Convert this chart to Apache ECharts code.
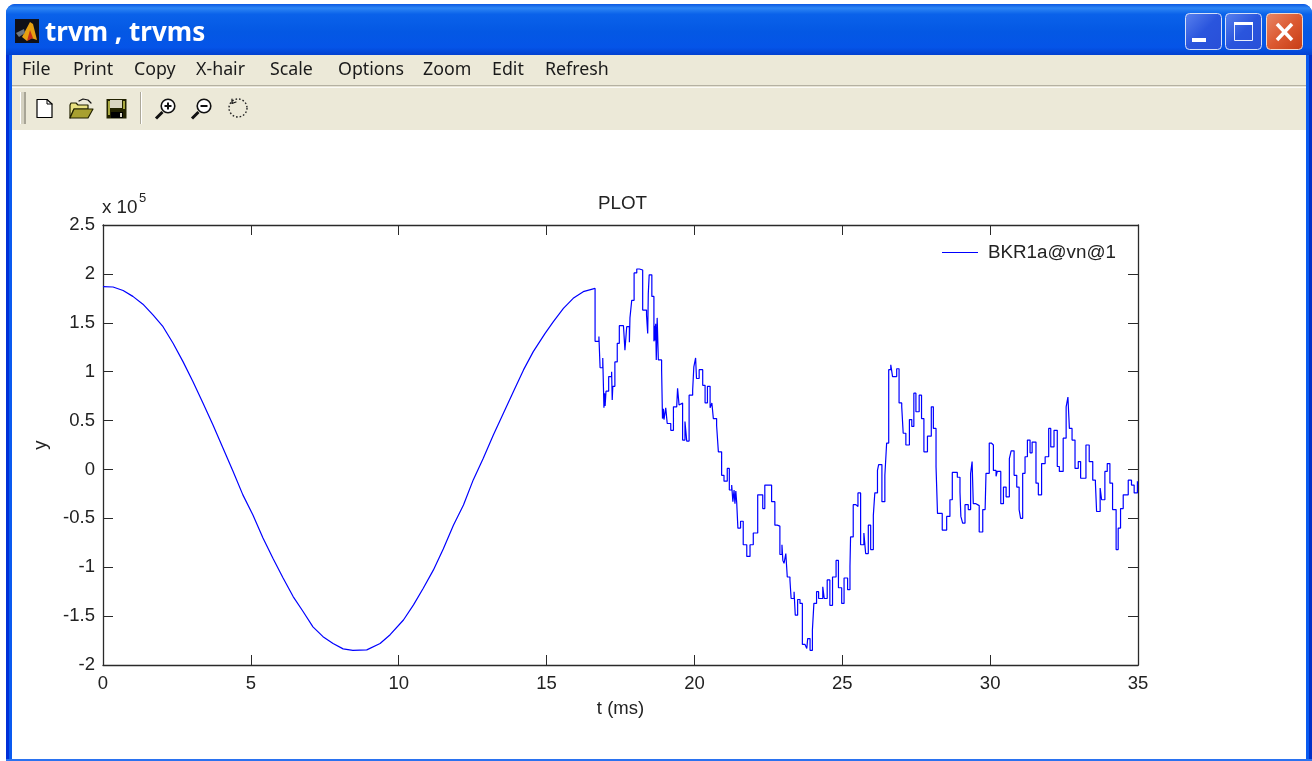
<!DOCTYPE html>
<html>
<head>
<meta charset="utf-8">
<style>html,body{margin:0;padding:0;background:#fff}#c{width:1312px;height:761px}</style>
<script src="https://cdn.jsdelivr.net/npm/echarts@6/dist/echarts.min.js"></script>
</head>
<body>
<div id="c"></div>
<script>
const windowTitle = 'trvm , trvms';
const menuLabels = ['File','Print','Copy','X-hair','Scale','Options','Zoom','Edit','Refresh'];
const xTicks = {min:0, max:35, step:5};
const yTicks = {min:-2, max:2.5, step:0.5};
const seriesName = 'BKR1a@vn@1';

// t in ms, y in units of 1e5
const tSine = [0,0.34,0.68,1.01,1.35,1.69,2.03,2.37,2.71,3.04,3.38,3.72,4.06,4.40,4.73,5.07,5.41,5.75,6.09,6.43,6.76,7.10,7.44,7.78,8.12,8.45,8.92,9.37,9.71,10.16,10.50,10.83,11.17,11.51,11.85,12.19,12.52,12.86,13.20,13.54,13.88,14.22,14.55,14.95,15.23,15.57,15.90,16.24,16.64];
const ySine = [1.87,1.866,1.83,1.77,1.69,1.58,1.46,1.29,1.10,0.90,0.68,0.455,0.216,-0.02,-0.26,-0.465,-0.70,-0.91,-1.11,-1.30,-1.45,-1.61,-1.71,-1.78,-1.835,-1.85,-1.845,-1.78,-1.69,-1.54,-1.385,-1.215,-1.03,-0.81,-0.57,-0.363,-0.107,0.114,0.353,0.574,0.796,1.018,1.205,1.392,1.512,1.648,1.75,1.818,1.852];
const tRise = [16.64,16.64,16.77,16.81,16.90,16.94,16.96,16.98,17.01,17.10,17.20,17.22,17.24,17.31,17.39,17.46,17.60,17.65,17.71,17.80,17.82,17.88,17.96,18.05,18.14,18.25,18.38,18.42,18.44,18.47,18.52,18.56,18.63,18.65,18.67,18.69,18.71,18.74,18.78,18.89,18.92,18.95,18.97,19.03,19.08,19.20,19.29,19.40,19.43,19.48,19.53,19.60,19.68,19.74,19.82,19.94,19.98,20.04,20.07,20.16,20.28,20.36,20.44,20.53,20.59,20.64,20.75,20.81,20.92,21.00,21.11,21.18,21.26,21.30,21.34,21.37,21.40,21.43,21.47,21.56,21.65,21.77,21.88,21.99,22.14,22.22,22.31,22.38,22.53,22.61,22.72,22.80,22.89];
const yRise = [1.852,1.31,1.36,1.04,1.14,0.63,0.78,0.65,0.80,0.95,1.00,0.71,0.85,1.10,1.29,1.47,1.47,1.22,1.46,1.30,1.55,1.73,2.01,2.05,2.04,1.63,1.58,1.39,1.80,1.99,1.99,1.77,1.31,1.47,1.32,1.49,1.12,1.55,1.12,1.02,0.52,0.62,0.51,0.63,0.47,0.40,0.64,0.62,0.83,0.66,0.68,0.30,0.49,0.29,0.76,0.81,1.05,1.14,0.93,1.02,0.86,0.68,0.85,0.63,0.68,0.52,0.45,0.18,-0.06,-0.12,0.01,-0.21,-0.16,-0.33,-0.21,-0.35,-0.22,-0.34,-0.60,-0.53,-0.77,-0.89,-0.77,-0.65,-0.26,-0.26,-0.40,-0.16,-0.16,-0.33,-0.57,-0.58,-0.87];
const tMid = [22.96,22.99,23.03,23.09,23.14,23.23,23.27,23.37,23.41,23.49,23.57,23.65,23.74,23.80,23.83,23.91,23.99,24.04,24.13,24.20,24.34,24.39,24.49,24.58,24.67,24.79,24.87,24.98,25.06,25.18,25.26,25.28,25.37,25.46,25.53,25.62,25.73,25.79,25.88,25.96,26.05,26.10,26.19,26.23,26.34,26.44,26.50,26.57,26.64,26.70,26.84,26.92,27.01,27.06,27.15,27.27,27.35,27.42,27.49,27.60,27.68,27.76,27.88,28.01,28.08,28.17,28.22,28.38,28.53,28.64];
const yMid = [-0.77,-0.93,-0.96,-0.86,-1.10,-1.13,-1.32,-1.25,-1.49,-1.33,-1.37,-1.79,-1.78,-1.83,-1.73,-1.85,-1.64,-1.37,-1.25,-1.32,-1.20,-1.32,-1.13,-1.39,-1.10,-0.93,-1.21,-1.37,-1.11,-1.23,-0.99,-0.69,-0.36,-0.38,-0.24,-0.77,-0.65,-0.86,-0.57,-0.82,-0.47,-0.24,-0.01,0.05,-0.33,-0.06,0.27,1.02,1.07,0.95,1.03,0.68,0.64,0.37,0.25,0.51,0.44,0.78,0.59,0.76,0.52,0.18,0.34,0.64,0.42,0.03,-0.45,-0.62,-0.48,-0.31];
const tEnd = [28.72,28.89,28.98,29.01,29.07,29.15,29.26,29.34,29.39,29.43,29.52,29.63,29.75,29.83,29.86,29.97,30.04,30.11,30.20,30.24,30.36,30.45,30.54,30.65,30.71,30.81,30.90,30.98,31.03,31.10,31.18,31.26,31.35,31.42,31.46,31.55,31.63,31.74,31.86,31.98,32.05,32.16,32.27,32.34,32.47,32.57,32.63,32.68,32.77,32.87,32.98,33.06,33.24,33.35,33.47,33.56,33.60,33.72,33.77,33.88,33.96,34.05,34.14,34.26,34.33,34.41,34.50,34.67,34.78,34.87,34.98,35];
const yEnd = [-0.03,-0.08,-0.23,-0.48,-0.55,-0.36,-0.41,-0.04,0.08,-0.35,-0.37,-0.64,-0.41,-0.43,-0.04,0.27,0.25,-0.01,-0.07,-0.02,-0.35,-0.18,-0.28,0.11,0.19,-0.06,-0.18,-0.41,-0.50,-0.04,0.13,0.30,0.17,0.28,0.28,-0.14,-0.26,0.06,0.13,0.42,0.23,0.40,0.03,-0.02,0.32,0.64,0.74,0.42,0.30,0.01,0.08,-0.09,0.25,0.08,-0.11,-0.14,-0.43,-0.19,-0.31,-0.02,0.06,-0.14,-0.41,-0.82,-0.60,-0.40,-0.26,-0.11,-0.16,-0.24,-0.12,-0.12];

const sineData = tSine.map((t,i)=>[t, ySine[i]]);
const noisyT = tRise.concat(tMid, tEnd);
const noisyY = yRise.concat(yMid, yEnd);
const noisyData = noisyT.map((t,i)=>[t, noisyY[i]]);

/* ---- window chrome ---- */
const grad = (stops, x2, y2) => ({type:'linear',x:0,y:0,x2:x2||0,y2:y2===undefined?1:y2,
  colorStops:stops.map(s=>({offset:s[0],color:s[1]}))});
const rect = (x,y,w,h,fill)=>({type:'rect',shape:{x,y,width:w,height:h},style:{fill},silent:true});
const line = (x1,y1,x2,y2,stroke,w,dash)=>({type:'line',shape:{x1,y1,x2,y2},style:{stroke,lineWidth:w||1,lineDash:dash||null},silent:true});
const poly = (pts,fill,stroke,w)=>({type:'polygon',shape:{points:pts},style:{fill:fill||'none',stroke:stroke||'none',lineWidth:w||1,lineJoin:'round'},silent:true});
const pline = (pts,stroke,w)=>({type:'polyline',shape:{points:pts},style:{fill:'none',stroke,lineWidth:w||1,lineCap:'round',lineJoin:'round'},silent:true});
const circ = (cx,cy,r,fill,stroke,w,dash)=>({type:'circle',shape:{cx,cy,r},style:{fill:fill||'none',stroke:stroke||'none',lineWidth:w||1,lineDash:dash||null},silent:true});
const txt = (x,y,text,font,fill,extra)=>({type:'text',x,y,silent:true,style:Object.assign({text,font,fill,verticalAlign:'middle',align:'left'},extra||{})});

const MENU_X = [22,73,134,196,270,338,423,492,545];
const titleGrad = grad([[0,'#0a58e2'],[0.08,'#2d86f4'],[0.2,'#0a62ea'],[0.55,'#0458e4'],[0.85,'#0554e8'],[1,'#0341d0']]);
const btnGrad = () => grad([[0,'#5a82ee'],[0.5,'#2a55dd'],[1,'#2a4fd8']],1,1);
const chrome = [
  {type:'rect',shape:{x:6,y:4,width:1306,height:757,r:[9,9,0,0]},style:{fill:'#0a4fe0'},silent:true},
  {type:'rect',shape:{x:6,y:4,width:1306,height:51,r:[9,9,0,0]},style:{fill:titleGrad},silent:true},
  rect(6,55,3,706,'#0030d8'), rect(9,55,3,706,'#0a5af0'),
  rect(1306,55,3,706,'#0a5af0'), rect(1309,55,3,706,'#0030c8'),
  rect(6,759,1306,2,'#2a72f0'),
  rect(12,55,1294,704,'#ffffff'),
  rect(12,55,1294,30,'#ece9d8'),
  rect(12,85,1294,1,'#b5b1a2'),
  rect(12,86,1294,1,'#e6e3d4'),
  rect(12,87,1294,1,'#fbfaf6'),
  rect(12,88,1294,42,'#ece9d8'),
  // window icon
  rect(15,19,24,24,'#101018'),
  poly([[22,37],[30,22],[33,24],[37,40],[31,38],[27,41]],'#e8a010'),
  poly([[27,41],[30,30],[33,38]],'#c8301a'),
  poly([[16,33],[24,29],[25,33],[19,37]],'#707880'),
  txt(45,34,windowTitle,'bold 26px "Noto Sans"','#ffffff',{shadowColor:'#00209a',shadowBlur:1,shadowOffsetX:1,shadowOffsetY:1}),
  // window buttons
  {type:'rect',shape:{x:1185.5,y:13.5,width:36,height:36,r:4},style:{fill:btnGrad(),stroke:'#d5e0f8',lineWidth:1},silent:true},
  rect(1192,38,14,4,'#ffffff'),
  {type:'rect',shape:{x:1225.5,y:13.5,width:36,height:36,r:4},style:{fill:btnGrad(),stroke:'#d5e0f8',lineWidth:1},silent:true},
  {type:'rect',shape:{x:1234.5,y:22.5,width:18,height:18},style:{fill:'none',stroke:'#e8eefc',lineWidth:1},silent:true},
  rect(1234,22,19,3,'#ffffff'),
  {type:'rect',shape:{x:1266.5,y:13.5,width:36,height:36,r:4},style:{fill:grad([[0,'#e88868'],[0.5,'#dc5a32'],[1,'#c63c14']],1,1),stroke:'#f0d8cc',lineWidth:1},silent:true},
  line(1277,24,1292,40,'#ffffff',3.5), line(1292,24,1277,40,'#ffffff',3.5),
  // toolbar grip + separator
  rect(20,92,1,32,'#ffffff'), rect(21,92,3,32,'#d5d2c2'), rect(24,92,2,32,'#a8a596'),
  rect(140,92,1,32,'#aca899'), rect(141,92,1,32,'#ffffff'),
  // new
  poly([[37,99.5],[47,99.5],[52,104],[52,117.5],[37,117.5]],'#ffffff','#000000',1.2),
  pline([[47,99.5],[47,104],[52,104]],'#000000',1),
  // open
  poly([[70,105],[71,103],[76,103],[78,105],[88,105],[88,109],[74,109],[70,118]],'#e8e080','#222200',1.2),
  poly([[74,109],[93,109],[88,118],[70,118]],'#a8a030','#222200',1.2),
  pline([[79,101],[83,99],[88,100],[91,103]],'#111111',1.2),
  // save
  rect(106.5,99,20,19.5,'#222200'),
  rect(110,100,12,8,'#d8d4c0'),
  rect(111,112,12,6,'#000000'), rect(120,113,2,4,'#d8d4c0'),
  rect(108,101,2,14,'#a8a840'), rect(123,101,2,8,'#a8a840'),
  // zoom in
  circ(168,106,6.8,'#ffffff','#111111',1.6),
  line(168,102.5,168,109.5,'#111111',2), line(164.5,106,171.5,106,'#111111',2),
  line(162.5,112,156,118.5,'#111111',3),
  // zoom out
  circ(204,106,6.8,'#ffffff','#111111',1.6),
  line(200.5,106,207.5,106,'#111111',2),
  line(198.5,112,192,118.5,'#111111',3),
  // rotate
  circ(238,108,9,'none','#222222',1.4,[1.6,2]),
  pline([[232,99],[232,103.5],[236,102]],'#111111',1.2),
  // menu labels
  ...menuLabels.map((m,i)=>txt(MENU_X[i],70,m,'17.8px "Noto Sans"','#1a1a1a')),
  // exponent note next to the y axis
  txt(102,208,'x 10','18.8px "Liberation Sans"','#222222'),
  txt(139,198,'5','13px "Liberation Sans"','#222222')
];

const axisColor = '#2a2a2a';
const labelStyle = {color:'#222222',fontFamily:'Liberation Sans',fontSize:18.5};
const tickCommon = {show:true,inside:true,length:10,lineStyle:{color:axisColor,width:1}};
const lineCommon = {show:true,onZero:false,lineStyle:{color:axisColor,width:1.3}};
const xBase = {type:'value',min:xTicks.min,max:xTicks.max,interval:xTicks.step,splitLine:{show:false},axisLine:lineCommon,axisTick:tickCommon,minorTick:{show:false}};
const yBase = {type:'value',min:yTicks.min,max:yTicks.max,interval:yTicks.step,splitLine:{show:false},axisLine:lineCommon,axisTick:tickCommon,minorTick:{show:false}};
const traceStyle = {color:'#0000ff',width:1.2};

const chart = echarts.init(document.getElementById('c'),null,{renderer:'canvas',width:1312,height:761});
chart.setOption({
  animation:false,
  backgroundColor:'#ffffff',
  title:{text:'PLOT',left:593,top:189,textStyle:{color:'#222222',fontFamily:'Liberation Sans',fontSize:18.8,fontWeight:'normal'}},
  grid:{left:103,top:225,width:1035,height:440,containLabel:false,show:false},
  legend:{show:true,left:937,top:238,itemWidth:36,itemHeight:18,selectedMode:false,
    textStyle:{color:'#222222',fontFamily:'Liberation Sans',fontSize:18.8,padding:[0,0,0,5]},
    data:[{name:seriesName,icon:'path://M0 9H36V10H0Z',itemStyle:{color:'#0000ff'}}]},
  xAxis:[
    Object.assign({},xBase,{position:'bottom',name:'t (ms)',nameLocation:'middle',nameGap:34,
      nameTextStyle:labelStyle,axisLabel:Object.assign({margin:9},labelStyle)}),
    Object.assign({},xBase,{position:'top',axisLabel:{show:false}})
  ],
  yAxis:[
    Object.assign({},yBase,{position:'left',name:'y',nameLocation:'middle',nameGap:53,nameRotate:90,
      nameTextStyle:labelStyle,axisLabel:Object.assign({margin:8},labelStyle)}),
    Object.assign({},yBase,{position:'right',axisLabel:{show:false}})
  ],
  series:[
    {name:seriesName,type:'line',xAxisIndex:0,yAxisIndex:0,data:sineData,showSymbol:false,symbol:'none',
      lineStyle:traceStyle,itemStyle:{color:'#0000ff'},smooth:false,z:3},
    {name:seriesName,type:'line',xAxisIndex:0,yAxisIndex:0,data:noisyData,showSymbol:false,symbol:'none',step:'end',
      lineStyle:traceStyle,itemStyle:{color:'#0000ff'},smooth:false,z:3}
  ],
  graphic:{elements:chrome}
});
</script>
</body>
</html>
